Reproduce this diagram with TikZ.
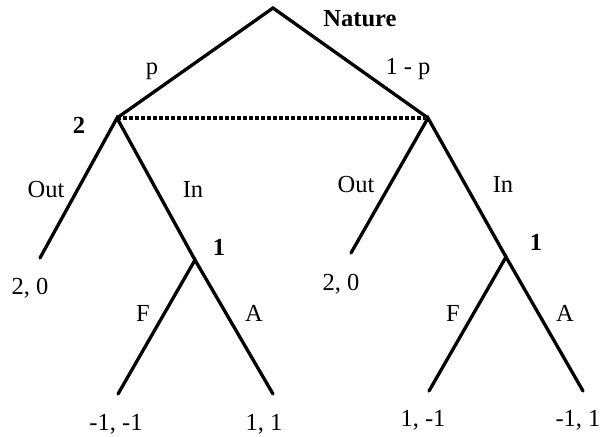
\documentclass[tikz,border=0pt]{standalone}
\usepackage{fontspec}
\setmainfont{Liberation Serif}
\begin{document}
\begin{tikzpicture}[x=1pt,y=-1pt,
  branch/.style={line width=3.3pt,line cap=round},
  infoset/.style={line width=3.3pt,dash pattern=on 3.5pt off 2.5pt},
  lbl/.style={anchor=base,inner sep=0pt,font=\fontsize{24.5}{28}\selectfont},
  plbl/.style={lbl,font=\fontsize{24.5}{28}\selectfont\bfseries}]
\useasboundingbox (0,0) rectangle (601,436);
% vertices
\coordinate (root) at (273,8);
\coordinate (L) at (117,118);
\coordinate (R) at (428,118);
\coordinate (Lout) at (40,258);
\coordinate (L1) at (195,260);
\coordinate (LF) at (118,394);
\coordinate (LA) at (273,394);
\coordinate (Rout) at (351,253);
\coordinate (R1) at (506,257);
\coordinate (RF) at (429,391);
\coordinate (RA) at (583,391);
% branches
\draw[branch] (L) -- (root) -- (R);
\draw[infoset] (L) -- (R);
\draw[branch] (Lout) -- (L) -- (L1);
\draw[branch] (LF) -- (L1) -- (LA);
\draw[branch] (Rout) -- (R) -- (R1);
\draw[branch] (RF) -- (R1) -- (RA);
% labels
\node[plbl] (tnature) at (360,27) {Nature};
\node[lbl] (tp) at (152,74) {p};
\node[lbl] (t1p) at (408,74) {1 - p};
\node[plbl] (t2) at (79,133) {2};
\node[lbl] (tOutL) at (46,197) {Out};
\node[lbl] (tInL) at (193,197) {In};
\node[lbl] (tOutR) at (356,192) {Out};
\node[lbl] (tInR) at (503,192) {In};
\node[plbl] (t1L) at (219,255) {1};
\node[plbl] (t1R) at (536,250) {1};
\node[lbl] (p20L) at (30,294) {2, 0};
\node[lbl] (p20R) at (341,290) {2, 0};
\node[lbl] (tFL) at (143,321) {F};
\node[lbl] (tAL) at (254,321) {A};
\node[lbl] (tFR) at (453,321) {F};
\node[lbl] (tAR) at (565,321) {A};
\node[lbl] (pmm) at (116,430) {-1, -1};
\node[lbl] (ppp) at (264,430) {1, 1};
\node[lbl] (ppm) at (423,426) {1, -1};
\node[lbl] (pmp) at (578,426) {-1, 1};
\end{tikzpicture}
\end{document}
